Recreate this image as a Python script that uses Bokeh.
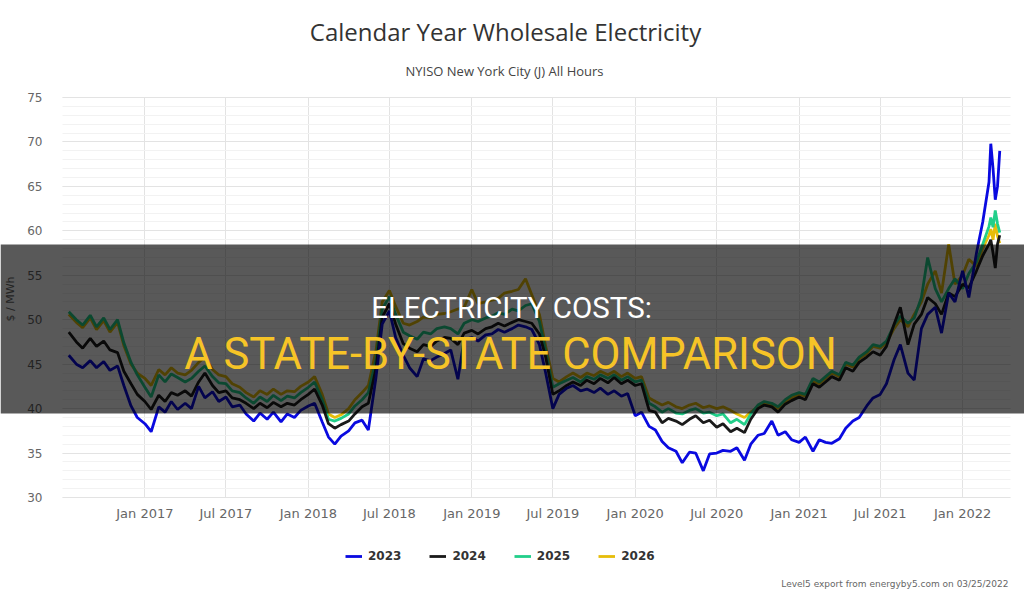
import pandas as pd
from bokeh.plotting import figure
from bokeh.models import (ColumnDataSource, FixedTicker, Legend, LegendItem, Label,
                          BoxAnnotation, Range1d, DatetimeTickFormatter)
from bokeh.embed import file_html
from bokeh.resources import INLINE

# ---------------- data ----------------
dates = list(pd.date_range("2016-07-15", "2022-03-01", freq="SMS")) + \
    list(pd.to_datetime(["2022-03-05", "2022-03-10", "2022-03-15", "2022-03-20", "2022-03-25"]))

series_names = ["2023", "2024", "2025", "2026"]

v2023 = [
    46.0, 45.0, 44.6, 45.4, 44.6, 45.3, 44.3, 44.8, 42.6, 40.3,
    39.0, 38.3, 37.4, 40.2, 39.6, 40.8, 39.9, 40.6, 40.0, 42.5,
    41.2, 41.9, 40.8, 41.3, 40.2, 40.4, 39.4, 38.6, 39.5, 38.8,
    39.6, 38.5, 39.4, 39.0, 39.8, 40.3, 40.6, 38.5, 36.8, 36.0,
    36.9, 37.5, 38.4, 38.7, 37.6, 43.5, 49.5, 51.0, 48.0, 46.0,
    44.6, 43.6, 45.6, 45.4, 45.8, 46.2, 46.6, 43.3, 47.8, 48.0,
    47.6, 48.3, 48.4, 48.9, 48.6, 49.0, 49.4, 49.2, 48.9, 47.2,
    44.0, 40.0, 41.6, 42.3, 42.6, 42.0, 42.2, 41.8, 42.3, 41.6,
    42.0, 41.4, 41.7, 39.2, 39.6, 38.0, 37.6, 36.3, 35.6, 35.2,
    33.9, 35.1, 35.0, 33.0, 34.9, 35.0, 35.3, 35.2, 35.6, 34.2,
    36.0, 37.0, 37.2, 38.6, 37.0, 37.4, 36.5, 36.2, 36.8, 35.2,
    36.5, 36.2, 36.1, 36.6, 37.8, 38.6, 39.0, 40.3, 41.2, 41.6,
    42.8, 45.5, 47.2, 44.0, 43.2, 49.0, 50.6, 51.4, 48.5, 53.0,
    52.0, 55.5, 52.5, 57.5, 61.0, 65.5, 69.8, 67.0, 63.5, 65.0,
    69.0]

v2024 = [
    48.6, 47.5, 46.8, 47.9, 47.0, 47.6, 46.6, 46.3, 44.2, 42.8,
    41.6, 40.8, 39.9, 41.5, 40.8, 41.8, 41.5, 42.0, 41.4, 43.0,
    44.0, 42.6, 41.8, 42.0, 41.2, 41.0, 40.6, 40.0, 40.6, 40.1,
    40.7, 40.2, 40.6, 40.4, 41.0, 41.6, 42.2, 40.4, 38.3, 37.8,
    38.2, 38.6, 39.4, 40.2, 40.6, 44.5, 50.3, 51.8, 49.5, 47.3,
    46.8, 46.4, 47.2, 47.0, 47.6, 48.0, 47.9, 47.2, 48.5, 48.8,
    48.4, 49.0, 49.2, 49.6, 49.3, 49.7, 50.0, 49.8, 49.6, 48.4,
    45.8, 41.6, 42.0, 42.6, 43.0, 42.6, 43.2, 42.8, 43.4, 42.9,
    43.5, 42.8, 43.2, 42.6, 42.8, 39.8, 39.6, 38.4, 38.9, 38.6,
    38.2, 38.8, 39.2, 38.4, 38.7, 37.9, 38.3, 37.4, 37.8, 37.3,
    38.8, 40.0, 40.4, 40.2, 39.6, 40.5, 40.9, 41.3, 41.0, 42.8,
    42.4, 43.0, 43.6, 43.2, 44.6, 44.2, 45.2, 45.8, 46.4, 46.0,
    47.0, 49.5, 51.4, 47.2, 49.5, 50.6, 52.5, 51.8, 50.6, 53.0,
    52.6, 54.0, 53.6, 55.5, 57.2, 58.5, 59.0, 57.5, 55.8, 58.5,
    59.5]

v2025 = [
    50.9, 50.0, 49.4, 50.5, 49.2, 50.2, 48.9, 50.0, 47.4, 45.2,
    43.8, 42.4, 41.3, 43.8, 43.0, 43.9, 43.5, 43.0, 43.4, 44.2,
    44.8, 43.6, 42.9, 42.8, 42.0, 41.8, 41.2, 40.6, 41.3, 40.8,
    41.5, 40.9, 41.4, 41.2, 41.8, 42.4, 43.0, 41.0, 38.8, 38.6,
    38.9, 39.4, 40.3, 41.0, 41.8, 45.5, 51.2, 52.6, 50.6, 48.6,
    48.2, 47.8, 48.6, 48.4, 49.0, 49.2, 49.0, 48.4, 49.6, 50.0,
    49.8, 50.2, 50.4, 50.8, 50.6, 51.2, 51.0, 51.6, 51.8, 49.8,
    46.5, 42.4, 42.8, 43.2, 43.5, 43.0, 43.6, 43.3, 43.8, 43.4,
    43.8, 43.2, 43.6, 43.0, 43.2, 40.6, 40.2, 39.6, 40.0, 39.5,
    39.4, 39.8, 40.0, 39.5, 39.6, 39.2, 39.4, 38.4, 38.8, 38.2,
    39.4, 40.4, 40.8, 40.6, 40.2, 41.0, 41.5, 41.8, 41.6, 43.4,
    43.0, 43.6, 44.2, 43.8, 45.2, 44.9, 45.8, 46.4, 47.2, 47.0,
    47.6, 49.4, 50.4, 49.6, 50.2, 52.5, 57.0, 53.5, 52.0, 53.5,
    54.6, 53.5, 55.2, 56.5, 58.5, 60.5, 61.5, 60.4, 62.3, 60.8,
    59.8]

v2026 = [
    50.6, 49.7, 49.1, 50.2, 48.9, 49.9, 48.6, 49.7, 47.1, 45.0,
    44.0, 43.4, 42.6, 44.4, 43.8, 44.6, 44.0, 43.8, 44.3, 45.2,
    45.8, 44.4, 43.8, 43.6, 42.8, 42.4, 41.8, 41.3, 42.0, 41.6,
    42.2, 41.6, 42.0, 41.9, 42.5, 43.0, 43.6, 41.6, 39.4, 39.0,
    39.3, 40.0, 41.0, 41.8, 42.6, 46.5, 52.0, 53.3, 51.5, 49.6,
    49.4, 49.8, 50.3, 50.2, 50.6, 50.7, 50.9, 51.2, 51.4, 53.4,
    51.8, 52.0, 52.2, 52.4, 53.0, 53.2, 53.4, 54.6, 52.8, 50.6,
    47.0, 43.4, 43.0, 43.6, 44.0, 43.5, 44.0, 43.7, 44.2, 43.8,
    44.2, 43.6, 44.0, 43.4, 43.6, 41.2, 40.8, 40.4, 40.7, 40.2,
    40.0, 40.4, 40.6, 40.1, 40.3, 40.0, 40.2, 39.8, 39.4, 39.0,
    39.6, 40.2, 40.6, 40.4, 40.0, 40.8, 41.2, 41.6, 41.4, 43.0,
    42.8, 43.4, 44.0, 43.6, 45.0, 44.7, 45.6, 46.2, 47.0, 46.8,
    47.4, 49.0, 50.0, 49.2, 50.6, 52.0, 54.0, 55.5, 53.0, 58.5,
    54.0, 55.0, 56.8, 56.0, 58.0, 59.5, 60.2, 59.0, 60.8, 59.4,
    58.6]

tick_dates = ["2017-01-01", "2017-07-01", "2018-01-01", "2018-07-01", "2019-01-01",
              "2019-07-01", "2020-01-01", "2020-07-01", "2021-01-01", "2021-07-01",
              "2022-01-01"]
y_ticks = [30, 35, 40, 45, 50, 55, 60, 65, 70, 75]
x_start, x_end = "2016-07-01", "2022-04-18"
y_start, y_end = 30, 75

title_text = "Calendar Year Wholesale Electricity"
subtitle_text = "NYISO New York City (J) All Hours"
credit_text = "Level5 export from energyby5.com on 03/25/2022"
banner_line1 = "ELECTRICITY COSTS:"
banner_line2 = "A STATE-BY-STATE COMPARISON"

colors = {"2023": "#0a0ae0", "2024": "#1a1a1a", "2025": "#22cf8a", "2026": "#e6bd0a"}

for arr in (v2023, v2024, v2025, v2026):
    assert len(arr) == len(dates), (len(arr), len(dates))

src = ColumnDataSource(dict(date=dates, v2023=v2023, v2024=v2024, v2025=v2025, v2026=v2026))

# ---------------- layout geometry (canvas px) ----------------
W, H = 1024, 597
PL, PR, PT, PB = 62, 1010, 97, 497   # plotting-area box inside the canvas

t0 = pd.Timestamp(x_start).value / 1e6
t1 = pd.Timestamp(x_end).value / 1e6
ms_per_px = (t1 - t0) / (PR - PL)
u_per_px = (y_end - y_start) / (PB - PT)

p = figure(width=W, height=H, x_axis_type="datetime", output_backend="svg",
           toolbar_location=None,
           x_range=Range1d(t0 - PL * ms_per_px, t1 + (W - PR) * ms_per_px),
           y_range=Range1d(y_start - (H - PB) * u_per_px, y_end + PT * u_per_px),
           min_border_left=0, min_border_right=0, min_border_top=0, min_border_bottom=0)
p.outline_line_color = None
p.background_fill_color = "white"
p.border_fill_color = "white"

tick_ms = [int(pd.Timestamp(d).value // 10**6) for d in tick_dates]
p.xaxis.ticker = FixedTicker(ticks=tick_ms)
p.xaxis.formatter = DatetimeTickFormatter(days="%b %Y", months="%b %Y", years="%b %Y")
p.yaxis.ticker = FixedTicker(ticks=y_ticks, minor_ticks=list(range(y_start, y_end + 1)))
p.xaxis.fixed_location = y_start
p.yaxis.fixed_location = t0

for ax in (p.xaxis[0], p.yaxis[0]):
    ax.axis_line_color = None
    ax.major_tick_line_color = None
    ax.minor_tick_line_color = None
    ax.major_tick_out = 0
    ax.major_tick_in = 0
    ax.major_label_text_font = "DejaVu Sans"
    ax.major_label_text_color = "#666666"

p.xaxis.major_label_text_font_size = "13px"
p.xaxis.major_label_standoff = 8
p.yaxis.major_label_text_font_size = "12px"
p.yaxis.major_label_standoff = 16
p.yaxis.axis_label = "$ / MWh"
p.yaxis.axis_label_text_font = "DejaVu Sans"
p.yaxis.axis_label_text_font_size = "11px"
p.yaxis.axis_label_text_font_style = "normal"
p.yaxis.axis_label_text_color = "#666666"
p.yaxis.axis_label_standoff = 7

p.xgrid.grid_line_color = "#e3e3e3"
p.xgrid.cross_bounds = (y_start, y_end)
p.ygrid.grid_line_color = "#e3e3e3"
p.ygrid.minor_grid_line_color = "#f2f2f2"
p.ygrid.cross_bounds = (t0, t1)

renderers = {}
for name in ["2026", "2025", "2024", "2023"]:
    renderers[name] = p.line(x="date", y="v" + name, source=src, line_color=colors[name],
                             line_width=2.8)

legend = Legend(items=[LegendItem(label=n, renderers=[renderers[n]]) for n in series_names],
                orientation="horizontal", location=(345, H - 563))
legend.label_text_font = "DejaVu Sans"
legend.label_text_font_style = "bold"
legend.label_text_font_size = "12px"
legend.label_text_color = "#333333"
legend.glyph_width = 17
legend.glyph_height = 14
legend.label_standoff = 6
legend.spacing = 28
legend.padding = 0
legend.margin = 0
legend.border_line_color = None
legend.background_fill_alpha = 0
p.add_layout(legend)


def label(x, y, text, **kw):
    p.add_layout(Label(x=x, y=H - y, x_units="screen", y_units="screen", text=text,
                       text_baseline="middle", **kw))


label(505, 31, title_text, text_align="center", text_font="Open Sans",
      text_font_size="24px", text_color="#333333")
label(504, 70.5, subtitle_text, text_align="center", text_font="Open Sans",
      text_font_size="13px", text_color="#444444")
label(1008, 583.5, credit_text, text_align="right", text_font="DejaVu Sans",
      text_font_size="9px", text_color="#666666")

# banner overlay
p.add_layout(BoxAnnotation(left=0, right=W, bottom=H - 413, top=H - 244,
                           left_units="screen", right_units="screen",
                           bottom_units="screen", top_units="screen",
                           fill_color="black", fill_alpha=0.65, line_color=None))
label(511, 307, banner_line1, text_align="center", text_font="Roboto",
      text_font_size="29.5px", text_color="white")
label(510, 354, banner_line2, text_align="center", text_font="Roboto",
      text_font_size="43.5px", text_color="#f6c427")

open("out.html", "w").write(file_html(p, INLINE))
